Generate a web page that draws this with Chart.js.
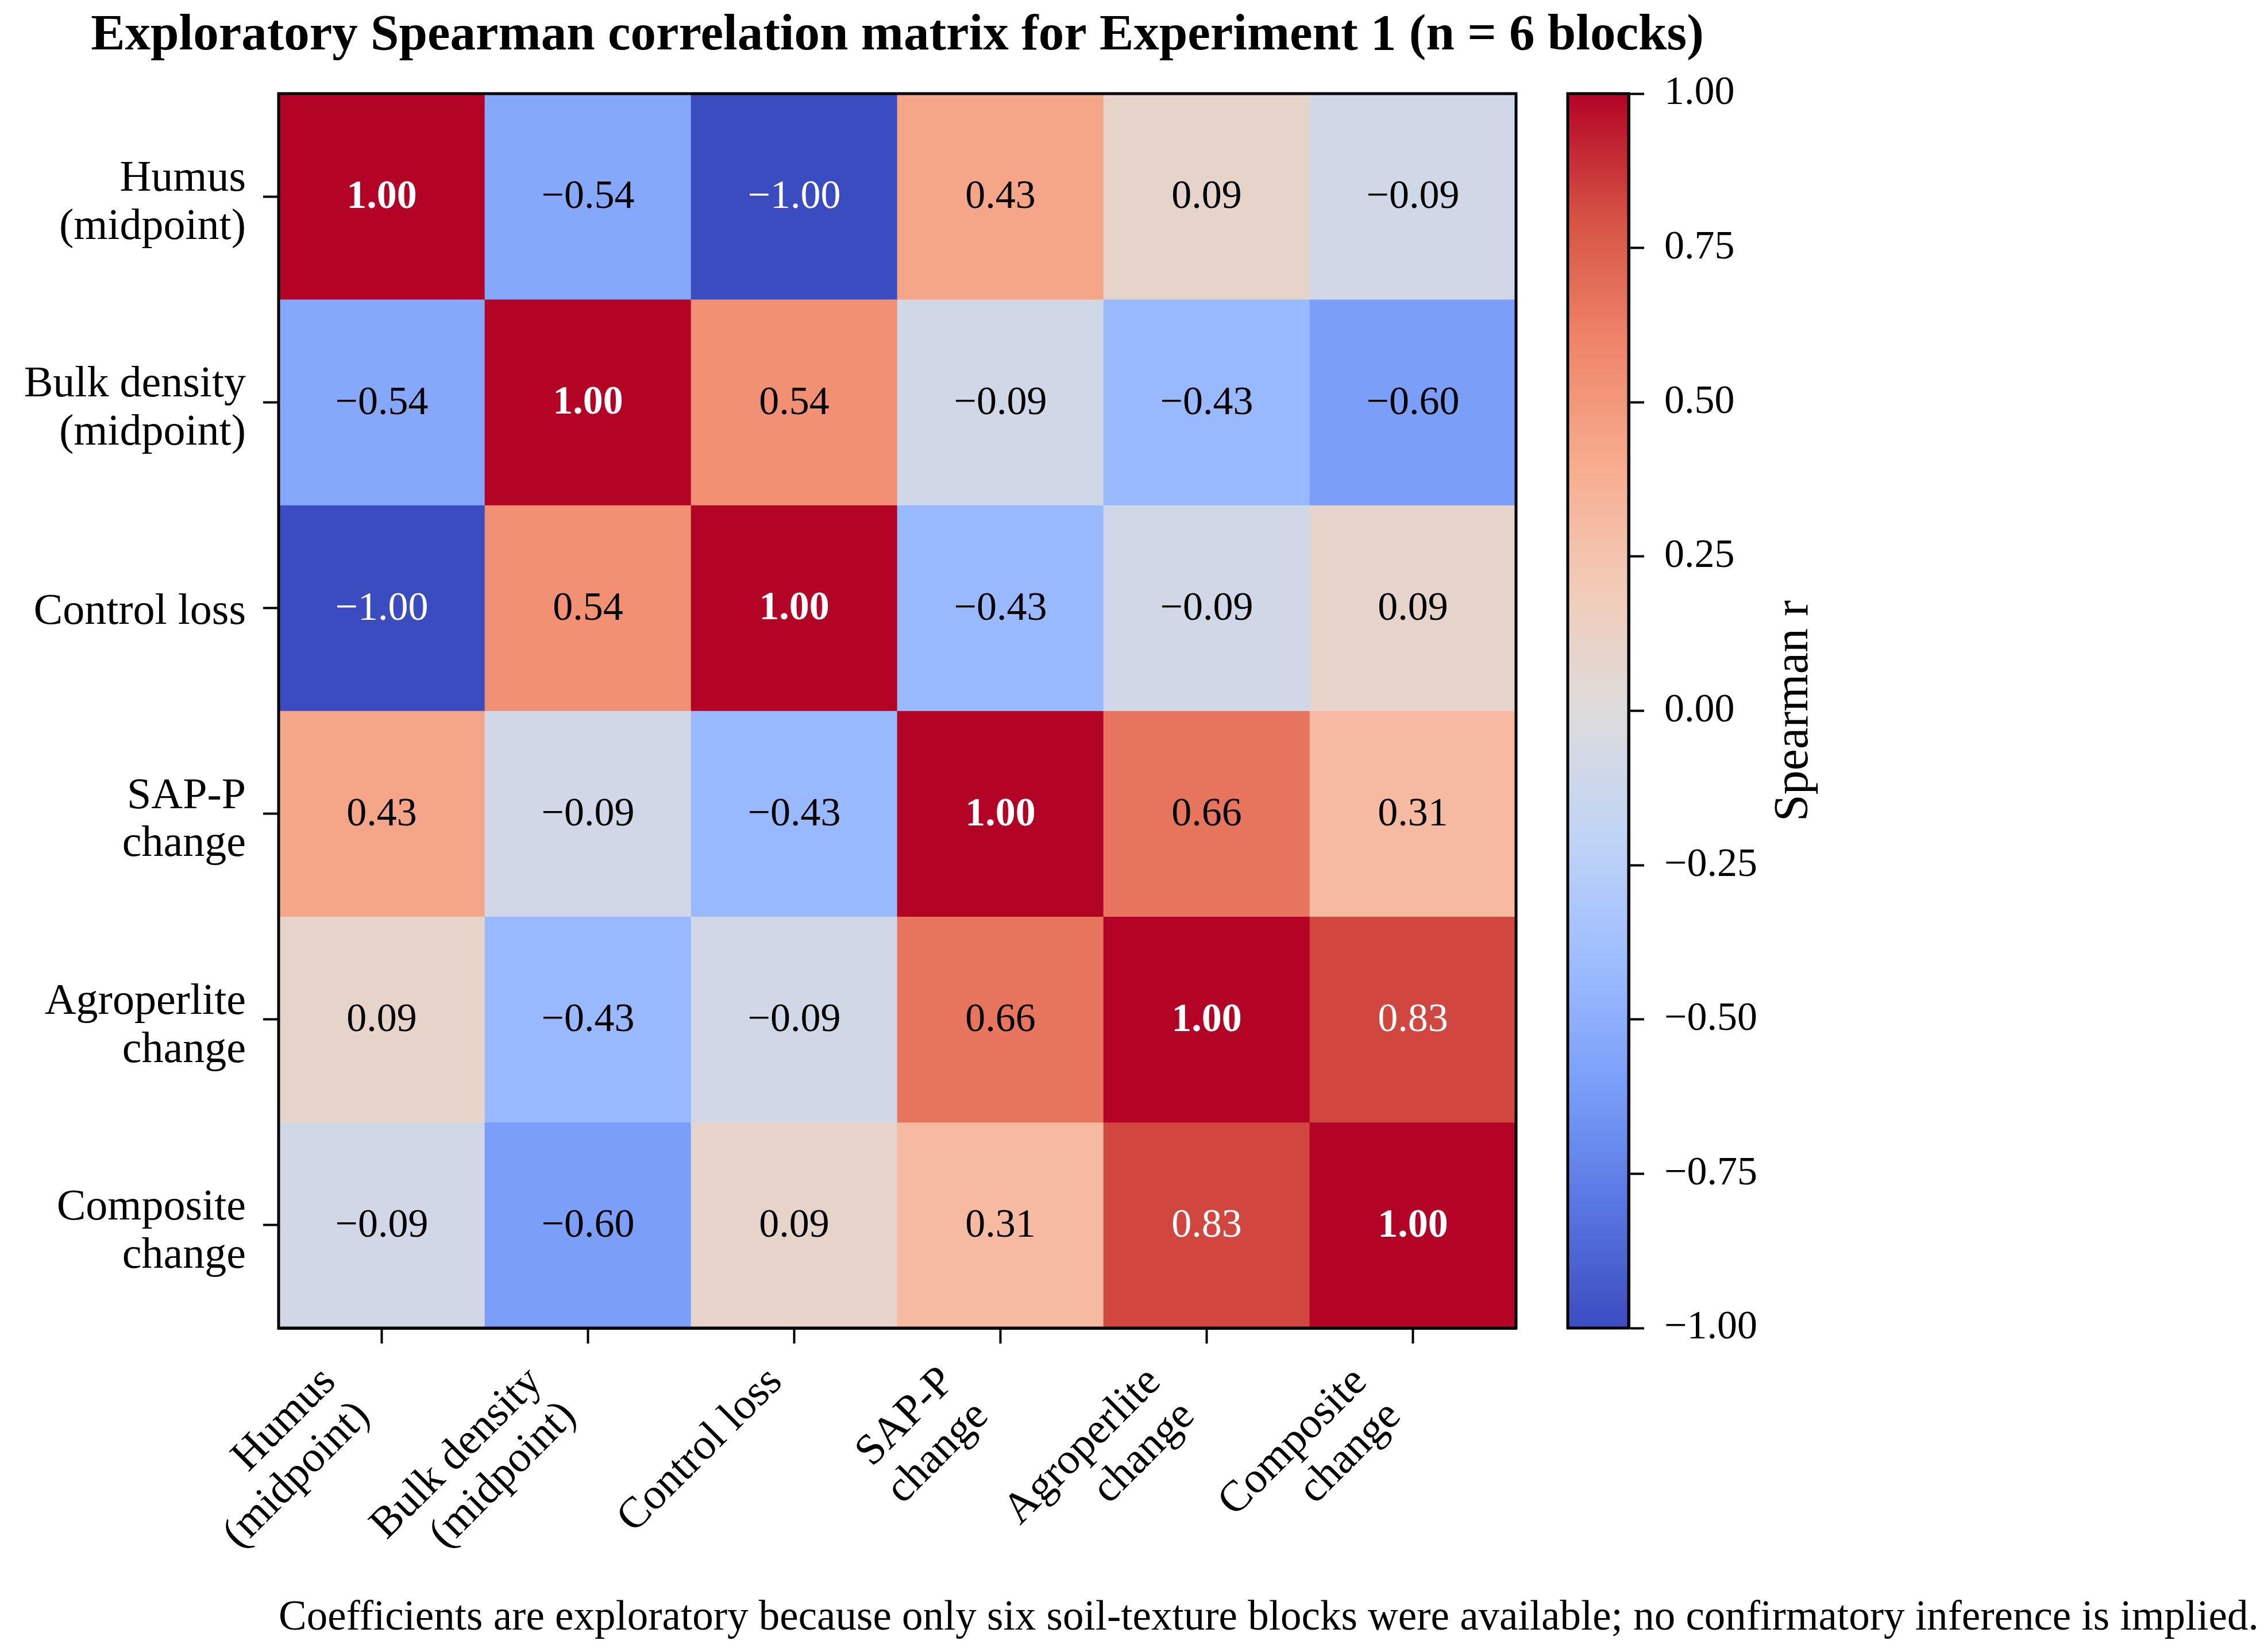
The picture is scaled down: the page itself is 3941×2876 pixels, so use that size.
<!DOCTYPE html>
<html><head><meta charset="utf-8">
<script src="https://cdn.jsdelivr.net/npm/chart.js@4.4.1/dist/chart.umd.min.js"></script>
<style>html,body{margin:0;padding:0;background:#fff}canvas{display:block}</style>
</head><body>
<canvas id="c" width="3941" height="2876" style="width:3941px;height:2876px"></canvas>
<script>
// ---------- data ----------
const variables = [
  ["Humus", "(midpoint)"],
  ["Bulk density", "(midpoint)"],
  ["Control loss"],
  ["SAP-P", "change"],
  ["Agroperlite", "change"],
  ["Composite", "change"]
];
const rowHumus       = [ 1.00, -0.54, -1.00,  0.43,  0.09, -0.09];
const rowBulkDensity = [-0.54,  1.00,  0.54, -0.09, -0.43, -0.60];
const rowControlLoss = [-1.00,  0.54,  1.00, -0.43, -0.09,  0.09];
const rowSapP        = [ 0.43, -0.09, -0.43,  1.00,  0.66,  0.31];
const rowAgroperlite = [ 0.09, -0.43, -0.09,  0.66,  1.00,  0.83];
const rowComposite   = [-0.09, -0.60,  0.09,  0.31,  0.83,  1.00];
const matrixRows = [rowHumus, rowBulkDensity, rowControlLoss, rowSapP, rowAgroperlite, rowComposite];
const colorbarTicks = [-1.00, -0.75, -0.50, -0.25, 0.00, 0.25, 0.50, 0.75, 1.00];
const titleText = "Exploratory Spearman correlation matrix for Experiment 1 (n = 6 blocks)";
const colorbarLabel = "Spearman r";
const footnoteText = "Coefficients are exploratory because only six soil-texture blocks were available; no confirmatory inference is implied.";

// ---------- style ----------
const VMIN = -1, VMAX = 1;
const COOLWARM = ['#3b4cc0','#5977e3','#7b9ff9','#9ebeff','#c0d4f5','#dddcdc','#f2cbb7','#f7ac8e','#ee8468','#d65244','#b40426'];
const FONT = "'Liberation Serif', 'Times New Roman', serif";
const LABEL_SIZE = 76, NUM_SIZE = 70, TITLE_SIZE = 89, LINE_H = 1.1;
const CB_GAP = 90, CB_WIDTH = 106;
const TICK_LEN = 27;

function hexToRgb(h){ return [parseInt(h.slice(1,3),16), parseInt(h.slice(3,5),16), parseInt(h.slice(5,7),16)]; }
function cmap(v){
  let t = (v - VMIN) / (VMAX - VMIN);
  t = Math.max(0, Math.min(1, t)) * (COOLWARM.length - 1);
  const i = Math.min(Math.floor(t), COOLWARM.length - 2);
  const f = t - i;
  const a = hexToRgb(COOLWARM[i]), b = hexToRgb(COOLWARM[i+1]);
  const c = a.map((x,k)=>Math.round(x + (b[k]-x)*f));
  return `rgb(${c[0]},${c[1]},${c[2]})`;
}
function fmt(v){ const s = Math.abs(v).toFixed(2); return (v < 0 ? '\u2212' : '') + s; }

const datasets = matrixRows.map((row, i) => ({
  label: variables[i].join(' '),
  data: row.map(() => [i, i + 1]),
  backgroundColor: row.map(v => cmap(v)),
  borderWidth: 0,
  barPercentage: 1,
  categoryPercentage: 1
}));

const heatPlugin = {
  id: 'heat',
  afterLayout(chart){
    const s = chart.scales.cb;
    const dx = CB_GAP + CB_WIDTH;
    s.left += dx; s.right += dx;
  },
  beforeDraw(chart){
    const ctx = chart.ctx, s = chart.scales.cb;
    // matplotlib-like anchoring of rotated multi-line x labels and vertically centred y labels
    const lh = LABEL_SIZE * LINE_H;
    chart.scales.x.getLabelItems(chart.chartArea).forEach(it => {
      if (it._adj) return; it._adj = true;
      const n = Array.isArray(it.label) ? it.label.length : 1;
      const H = (n - 1) * lh + LABEL_SIZE * 1.15;
      it.options.translation[0] -= Math.SQRT1_2 * H - Math.SQRT1_2 * lh / 2;
    });
    chart.scales.y.getLabelItems(chart.chartArea).forEach(it => {
      if (it._adj) return; it._adj = true;
      const n = Array.isArray(it.label) ? it.label.length : 1;
      it.options.translation[1] += n > 1 ? 12 : 8;
    });
    ctx.save();
    ctx.fillStyle = '#ffffff';
    ctx.fillRect(0, 0, chart.width, chart.height);
    const x0 = s.left - CB_WIDTH;
    const yTop = s.getPixelForValue(VMAX), yBot = s.getPixelForValue(VMIN);
    const g = ctx.createLinearGradient(0, yBot, 0, yTop);
    COOLWARM.forEach((c, k) => g.addColorStop(k / (COOLWARM.length - 1), c));
    ctx.fillStyle = g;
    ctx.fillRect(x0, yTop, CB_WIDTH, yBot - yTop);
    ctx.restore();
  },
  afterDatasetsDraw(chart){
    const ctx = chart.ctx, a = chart.chartArea;
    const xs = chart.scales.x, ys = chart.scales.y;
    ctx.save();
    ctx.textAlign = 'center';
    ctx.textBaseline = 'middle';
    matrixRows.forEach((row, i) => {
      row.forEach((v, j) => {
        const cx = xs.getPixelForValue(j);
        const cy = ys.getPixelForValue(i + 0.5);
        ctx.fillStyle = Math.abs(v) > 0.75 ? '#ffffff' : '#000000';
        ctx.font = (i === j ? 'bold ' : '') + NUM_SIZE + 'px ' + FONT;
        ctx.fillText(fmt(v), cx, cy + 2);
      });
    });
    ctx.strokeStyle = '#000';
    ctx.lineWidth = 5;
    ctx.strokeRect(a.left, a.top, a.right - a.left, a.bottom - a.top);
    ctx.restore();
  },
  afterDraw(chart){
    const ctx = chart.ctx, a = chart.chartArea, s = chart.scales.cb;
    ctx.save();
    ctx.strokeStyle = '#000';
    ctx.lineWidth = 5;
    const yTop = s.getPixelForValue(VMAX), yBot = s.getPixelForValue(VMIN);
    ctx.strokeRect(s.left - CB_WIDTH, yTop, CB_WIDTH, yBot - yTop);
    // title
    ctx.fillStyle = '#000';
    ctx.font = 'bold ' + TITLE_SIZE + 'px ' + FONT;
    ctx.textAlign = 'center';
    ctx.textBaseline = 'alphabetic';
    ctx.fillText(titleText, (a.left + a.right) / 2, 86);
    // footnote
    ctx.font = '73px ' + FONT;
    ctx.textAlign = 'left';
    ctx.fillText(footnoteText, a.left, 2837);
    // colorbar label
    ctx.font = '84px ' + FONT;
    ctx.translate(3124, (yTop + yBot) / 2);
    ctx.rotate(-Math.PI / 2);
    ctx.textAlign = 'center';
    ctx.textBaseline = 'middle';
    ctx.fillText(colorbarLabel, 0, 0);
    ctx.restore();
  }
};

new Chart(document.getElementById('c'), {
  type: 'bar',
  data: { labels: variables, datasets },
  options: {
    responsive: false,
    devicePixelRatio: 1,
    animation: false,
    layout: { padding: { top: 163, left: 0, right: 0, bottom: 0 } },
    plugins: { legend: { display: false }, tooltip: { enabled: false }, title: { display: false } },
    scales: {
      x: {
        type: 'category',
        stacked: true,
        afterFit(s){ s.height = 2876 - 2312; },
        grid: { offset: false, drawOnChartArea: false, drawTicks: true, tickLength: TICK_LEN, tickWidth: 4, color: '#000' },
        border: { display: true, color: '#000', width: 5 },
        ticks: { color: '#000', font: { family: FONT, size: LABEL_SIZE, lineHeight: LINE_H }, maxRotation: 45, minRotation: 45, autoSkip: false, padding: 26 }
      },
      y: {
        type: 'linear',
        stacked: false,
        min: 0, max: variables.length,
        reverse: true,
        afterFit(s){ s.width = 485; },
        afterBuildTicks(s){ s.ticks = variables.map((_, i) => ({ value: i + 0.5 })); },
        grid: { drawOnChartArea: false, drawTicks: true, tickLength: TICK_LEN, tickWidth: 4, color: '#000' },
        border: { display: true, color: '#000', width: 5 },
        ticks: { color: '#000', autoSkip: false, font: { family: FONT, size: LABEL_SIZE, lineHeight: LINE_H }, padding: 30,
                 callback(v, idx){ return variables[idx]; } }
      },
      cb: {
        type: 'linear',
        position: 'right',
        min: VMIN, max: VMAX,
        afterFit(s){ s.width = 3941 - 2639; },
        afterBuildTicks(s){ s.ticks = colorbarTicks.map(v => ({ value: v })); },
        grid: { drawOnChartArea: false, drawTicks: true, tickLength: TICK_LEN, tickWidth: 4, color: '#000' },
        border: { display: true, color: '#000', width: 5 },
        ticks: { color: '#000', autoSkip: false, font: { family: FONT, size: NUM_SIZE }, padding: 35,
                 callback(v){ return fmt(v); } }
      }
    }
  },
  plugins: [heatPlugin]
});
</script>
</body></html>
